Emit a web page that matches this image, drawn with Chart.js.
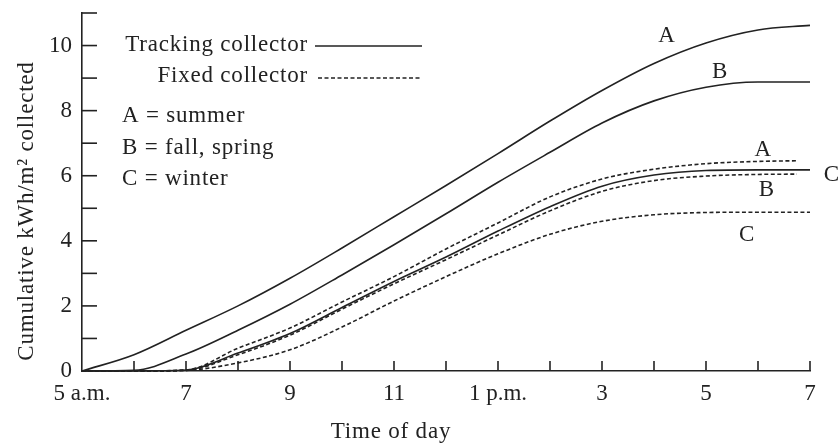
<!DOCTYPE html>
<html>
<head>
<meta charset="utf-8">
<script src="https://cdn.jsdelivr.net/npm/chart.js@4"></script>
<style>
  html, body { margin: 0; padding: 0; background: #fff; }
  #wrap { width: 839px; height: 444px; }
</style>
</head>
<body>
<div id="wrap"><canvas id="solarChart" width="839" height="444"></canvas></div>
<script>
// hours of the day (5 = 5 a.m., 19 = 7 p.m.)
const hours = [5, 6, 7, 8, 9, 10, 11, 12, 13, 14, 15, 16, 17, 18, 19];
const hoursFixed = [5, 6, 7, 8, 9, 10, 11, 12, 13, 14, 15, 16, 17, 18, 18.75];

// cumulative kWh/m2
const trackingSummer = [0, 0.5, 1.25, 2.0, 2.85, 3.78, 4.74, 5.7, 6.68, 7.68, 8.62, 9.45, 10.08, 10.48, 10.62];
const trackingFallSpring = [0, 0.02, 0.52, 1.25, 2.05, 2.95, 3.88, 4.83, 5.8, 6.72, 7.62, 8.3, 8.72, 8.88, 8.88];
const trackingWinter = [0, 0, 0.03, 0.55, 1.15, 1.95, 2.75, 3.5, 4.3, 5.05, 5.68, 6.02, 6.16, 6.18, 6.18];
const fixedSummer = [0, 0, 0.03, 0.7, 1.32, 2.12, 2.9, 3.75, 4.55, 5.35, 5.9, 6.2, 6.37, 6.44, 6.46];
const fixedFallSpring = [0, 0, 0.02, 0.5, 1.1, 1.9, 2.68, 3.42, 4.18, 4.92, 5.52, 5.85, 5.99, 6.04, 6.05];
const fixedWinter = [0, 0, 0.02, 0.25, 0.65, 1.35, 2.15, 2.9, 3.6, 4.2, 4.6, 4.8, 4.87, 4.88, 4.88];

const hourLabels = { 5: "5 a.m.", 7: "7", 9: "9", 11: "11", 13: "1 p.m.", 15: "3", 17: "5", 19: "7" };
const yTickLabels = [0, 2, 4, 6, 8, 10];

const ink = "#222";
const serif = "'Liberation Serif', 'Times New Roman', serif";
const dash = [4, 2.5];

function series(xs, ys, dashed) {
    return {
        data: xs.map((h, i) => ({ x: h, y: ys[i] })),
        borderColor: ink,
        borderWidth: 1.6,
        borderDash: dashed ? dash : [],
        pointRadius: 0,
        cubicInterpolationMode: "monotone",
        fill: false,
        clip: false
    };
}

// letters next to each curve (hour, value)
const curveTags = [
    { t: "A", h: 16.25, v: 10.3 },
    { t: "B", h: 17.27, v: 9.2 },
    { t: "A", h: 18.1, v: 6.8 },
    { t: "C", h: 19.42, v: 6.03 },
    { t: "B", h: 18.17, v: 5.57 },
    { t: "C", h: 17.79, v: 4.18 }
];

const extras = {
    id: "extras",
    afterDraw(chart) {
        const { ctx, chartArea: area, scales: { x, y } } = chart;
        const seg = (x1, y1, x2, y2, d) => {
            ctx.setLineDash(d || []);
            ctx.beginPath();
            ctx.moveTo(x1, y1);
            ctx.lineTo(x2, y2);
            ctx.stroke();
        };
        ctx.save();
        ctx.strokeStyle = ink;
        ctx.lineWidth = 1.6;

        // tick marks point into the plot
        for (let h = 6; h <= 19; h++) {
            const px = x.getPixelForValue(h);
            seg(px, area.bottom, px, area.bottom - 10);
        }
        for (let v = 1; v <= 11; v++) {
            const py = y.getPixelForValue(v);
            seg(area.left, py, area.left + 15, py);
        }

        ctx.fillStyle = ink;
        ctx.font = "23px " + serif;
        ctx.textBaseline = "middle";
        ctx.letterSpacing = "0.8px";

        // curve letters
        ctx.textAlign = "center";
        curveTags.forEach(c => ctx.fillText(c.t, x.getPixelForValue(c.h), y.getPixelForValue(c.v)));

        // key
        const kx = area.left + 40;
        ctx.textAlign = "right";
        ctx.fillText("Tracking collector", area.left + 226, area.top + 32);
        ctx.fillText("Fixed collector", area.left + 226, area.top + 63);
        seg(area.left + 233, area.top + 33, area.left + 340, area.top + 33);
        seg(area.left + 236, area.top + 65, area.left + 340, area.top + 65, dash);
        ctx.textAlign = "left";
        ctx.fillText("A = summer", kx, area.top + 103);
        ctx.fillText("B = fall, spring", kx, area.top + 135);
        ctx.fillText("C = winter", kx, area.top + 166);

        // axis titles
        ctx.textAlign = "center";
        ctx.fillText("Time of day", 391, 432);
        ctx.translate(27, 211);
        ctx.rotate(-Math.PI / 2);
        ctx.fillText("Cumulative kWh/m² collected", 0, 0);
        ctx.restore();
    }
};

new Chart(document.getElementById("solarChart"), {
    type: "line",
    data: {
        datasets: [
            series(hours, trackingSummer, false),
            series(hours, trackingFallSpring, false),
            series(hours, trackingWinter, false),
            series(hoursFixed, fixedSummer, true),
            series(hoursFixed, fixedFallSpring, true),
            series(hours, fixedWinter, true)
        ]
    },
    options: {
        responsive: false,
        animation: false,
        devicePixelRatio: 1,
        layout: { padding: { left: 0, top: 13, right: 29, bottom: 0 } },
        plugins: {
            legend: { display: false },
            tooltip: { enabled: false }
        },
        scales: {
            x: {
                type: "linear",
                min: 5,
                max: 19,
                afterFit: s => { s.height = 73; s.paddingRight = 0; s.paddingLeft = 0; },
                grid: { display: false, drawTicks: false },
                border: { display: true, color: ink, width: 1.6 },
                ticks: {
                    stepSize: 1,
                    autoSkip: false,
                    maxRotation: 0,
                    padding: 9,
                    color: ink,
                    font: { family: serif, size: 23 },
                    callback: v => hourLabels[v] || ""
                }
            },
            y: {
                min: 0,
                max: 11,
                afterFit: s => { s.width = 82; s.paddingTop = 0; s.paddingBottom = 0; },
                grid: { display: false, drawTicks: false },
                border: { display: true, color: ink, width: 1.6 },
                ticks: {
                    stepSize: 1,
                    autoSkip: false,
                    padding: 10,
                    color: ink,
                    font: { family: serif, size: 23 },
                    callback: v => yTickLabels.includes(v) ? String(v) : ""
                }
            }
        }
    },
    plugins: [extras]
});
</script>
</body>
</html>
